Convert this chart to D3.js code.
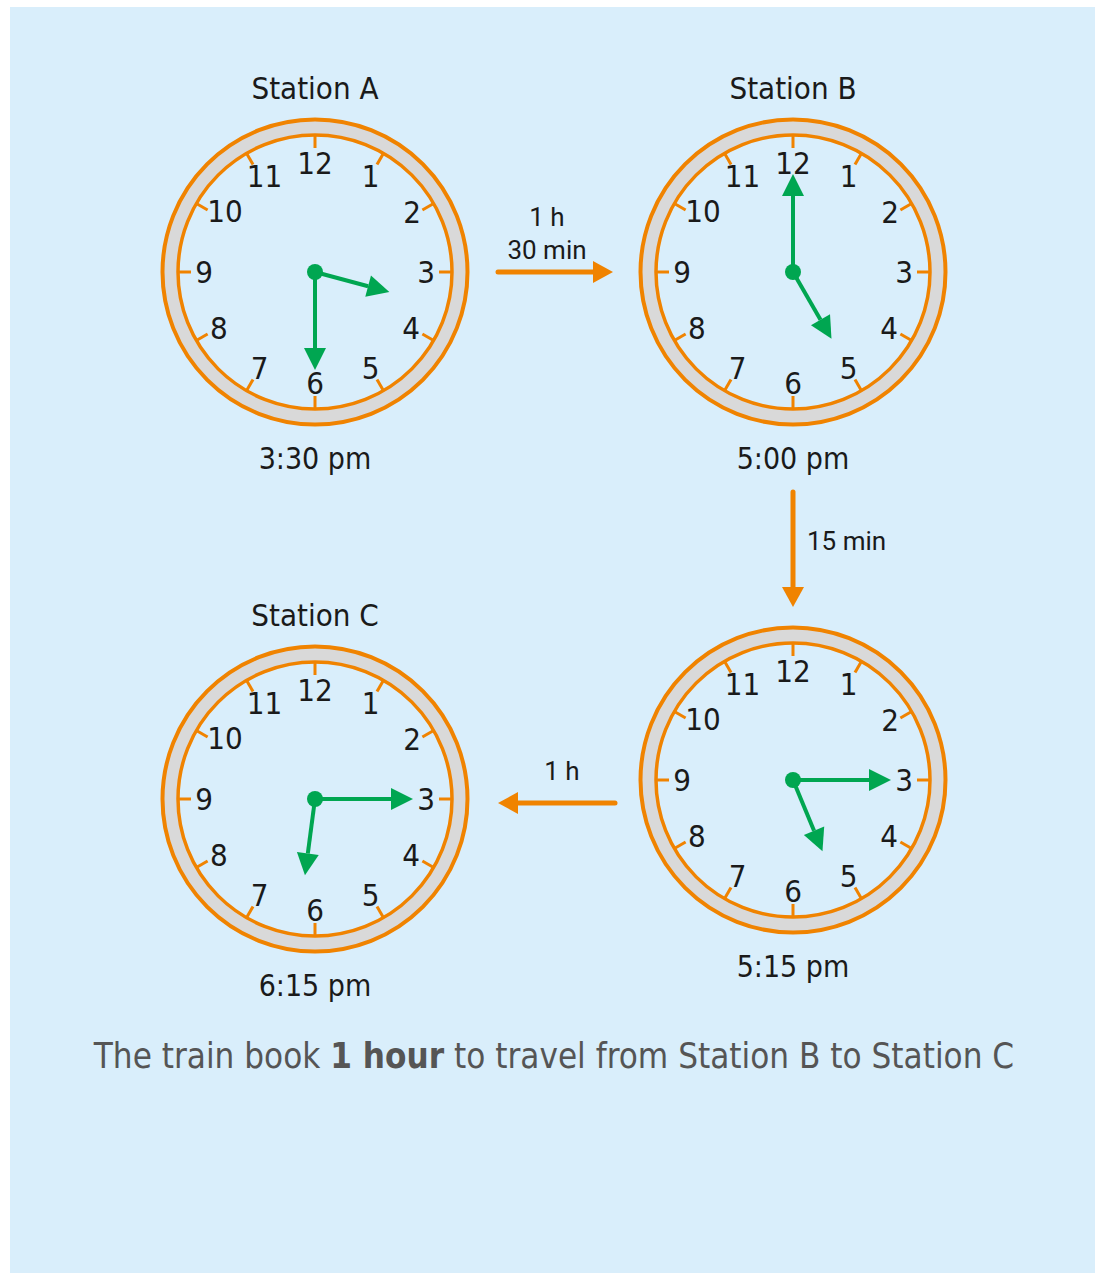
<!DOCTYPE html>
<html><head><meta charset="utf-8">
<script src="https://cdn.jsdelivr.net/npm/d3@7"></script>
<style>
html,body{margin:0;padding:0;background:#fff;}
svg{display:block;}
</style></head>
<body>
<script>
// ---- data ----
const stationNames = ["Station A", "Station B", "", "Station C"];
const hourValues = [3, 5, 5, 6];
const minuteValues = [30, 0, 15, 15];
const timeLabels = ["3:30 pm", "5:00 pm", "5:15 pm", "6:15 pm"];
const dialNumbers = [12, 1, 2, 3, 4, 5, 6, 7, 8, 9, 10, 11];
const legLabels = [["1 h", "30 min"], ["15 min"], ["1 h"]];
const captionParts = [["The train book ", false], ["1 hour", true], [" to travel from Station B to Station C", false]];

// ---- layout ----
const W = 1095, H = 1273;
const svg = d3.select("body").append("svg").attr("width", W).attr("height", H);
svg.append("rect").attr("x", 10).attr("y", 7).attr("width", 1085).attr("height", 1266).attr("fill", "#d9eefb");

const centers = [[315, 272], [793, 272], [793, 780], [315, 799]];
const ORANGE = "#f08300", GREEN = "#00a651", GRAY = "#d9d9d9", BG = "#d9eefb";
const FONT = "'Liberation Sans Narrow','DejaVu Sans Condensed','Open Sans',sans-serif";
const nudge = {2: [1, -5], 10: [6, -6], 11: [5, 0], 12: [0, 2]};

const hourAngle = d3.scaleLinear().domain([0, 12]).range([0, 2 * Math.PI]);
const minAngle = d3.scaleLinear().domain([0, 60]).range([0, 2 * Math.PI]);
const pt = (a, r) => [Math.sin(a) * r, -Math.cos(a) * r];

function arrowHand(g, a, len, headLen, headW) {
  const [tx, ty] = pt(a, len);
  const [bx, by] = pt(a, len - headLen);
  g.append("line").attr("x1", 0).attr("y1", 0).attr("x2", bx).attr("y2", by)
    .attr("stroke", GREEN).attr("stroke-width", 4);
  const [px, py] = pt(a + Math.PI / 2, headW / 2);
  g.append("path").attr("d", `M${tx},${ty}L${bx + px},${by + py}L${bx - px},${by - py}Z`).attr("fill", GREEN);
}

centers.forEach((c, i) => {
  const g = svg.append("g").attr("transform", `translate(${c[0]},${c[1]})`);
  g.append("circle").attr("r", 152.5).attr("fill", GRAY).attr("stroke", ORANGE).attr("stroke-width", 4);
  g.append("circle").attr("r", 137).attr("fill", BG).attr("stroke", ORANGE).attr("stroke-width", 3.5);
  dialNumbers.forEach(n => {
    const a = hourAngle(n);
    const [x1, y1] = pt(a, 137), [x2, y2] = pt(a, 124);
    g.append("line").attr("x1", x1).attr("y1", y1).attr("x2", x2).attr("y2", y2)
      .attr("stroke", ORANGE).attr("stroke-width", 3);
    const [tx, ty] = pt(a, 111);
    const nd = nudge[n] || [0, 0];
    g.append("text").attr("x", tx + nd[0]).attr("y", ty + 11 + nd[1]).attr("text-anchor", "middle")
      .attr("font-family", FONT).attr("font-size", 31).attr("fill", "#1a1a1a").text(n);
  });
  arrowHand(g, minAngle(minuteValues[i]), 98, 22, 22);
  arrowHand(g, hourAngle(hourValues[i] + minuteValues[i] / 60), 77, 22, 22);
  g.append("circle").attr("r", 8).attr("fill", GREEN);
  if (stationNames[i]) {
    svg.append("text").attr("x", c[0]).attr("y", c[1] - 173).attr("text-anchor", "middle")
      .attr("font-family", FONT).attr("font-size", 31).attr("fill", "#1a1a1a").text(stationNames[i]);
  }
  svg.append("text").attr("x", c[0]).attr("y", c[1] + 197).attr("text-anchor", "middle")
    .attr("font-family", FONT).attr("font-size", 30).attr("fill", "#1a1a1a").text(timeLabels[i]);
});

// travel arrows
function orangeArrow(x1, y1, x2, y2) {
  const a = Math.atan2(y2 - y1, x2 - x1), hl = 20, hw = 22;
  const bx = x2 - Math.cos(a) * hl, by = y2 - Math.sin(a) * hl;
  svg.append("line").attr("x1", x1).attr("y1", y1).attr("x2", bx).attr("y2", by)
    .attr("stroke", ORANGE).attr("stroke-width", 5).attr("stroke-linecap", "round");
  const px = -Math.sin(a) * hw / 2, py = Math.cos(a) * hw / 2;
  svg.append("path").attr("d", `M${x2},${y2}L${bx + px},${by + py}L${bx - px},${by - py}Z`).attr("fill", ORANGE);
}
orangeArrow(498, 272, 613, 272);
orangeArrow(793, 492, 793, 607);
orangeArrow(615, 803, 498, 803);

const LFONT = "Roboto, sans-serif";
const leg = [[547, 226, "middle"], [807, 550, "start"], [562, 780, "middle"]];
legLabels.forEach((lines, i) => {
  lines.forEach((t, j) => {
    svg.append("text").attr("x", leg[i][0]).attr("y", leg[i][1] + j * 33).attr("text-anchor", leg[i][2])
      .attr("font-family", LFONT).attr("font-size", 26).attr("fill", "#1a1a1a").text(t);
  });
});

const cap = svg.append("text").attr("x", 554).attr("y", 1068).attr("text-anchor", "middle")
  .attr("font-family", FONT).attr("font-size", 34.7).attr("fill", "#555");
captionParts.forEach(([t, b]) => cap.append("tspan").attr("font-weight", b ? "bold" : "normal").text(t));
</script>
</body></html>
